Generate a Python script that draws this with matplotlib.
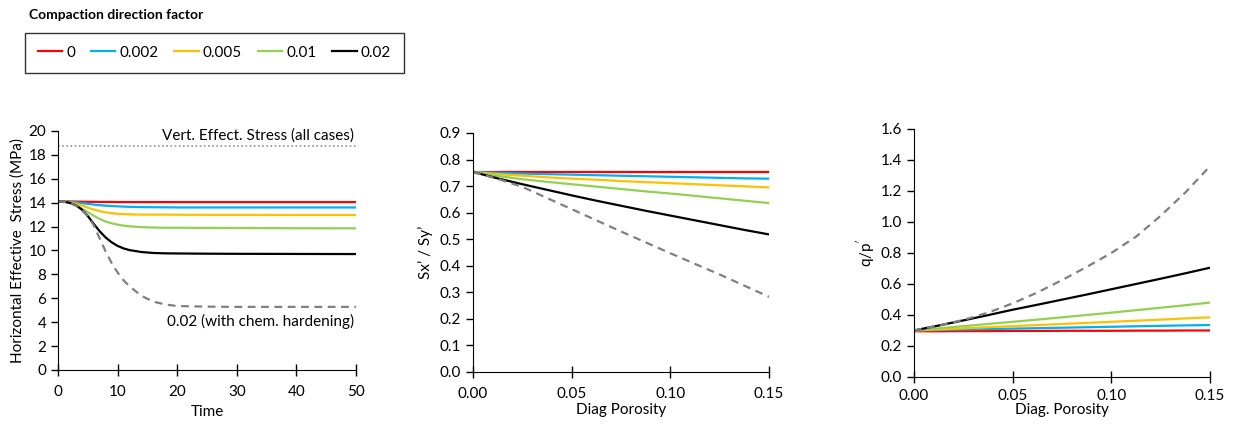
import matplotlib.pyplot as plt
from matplotlib.lines import Line2D

plt.rcParams['font.family'] = ['Lato', 'DejaVu Sans']
plt.rcParams['font.size'] = 11

factors = ['0', '0.002', '0.005', '0.01', '0.02']
colors = ['#FF0000', '#00B0F0', '#FFC000', '#92D050', '#000000']

# panel 1: horizontal effective stress vs time
time = [0, 1, 2, 3, 4, 5, 6, 7, 8, 9, 10, 11, 12, 14, 16, 18, 20, 25, 30, 40, 50]
stress = {
    '0':     [14.1, 14.1, 14.1, 14.09, 14.08, 14.07, 14.07, 14.06, 14.06, 14.06, 14.05, 14.05, 14.05,
              14.05, 14.05, 14.05, 14.05, 14.05, 14.05, 14.05, 14.05],
    '0.002': [14.1, 14.1, 14.07, 14.02, 13.96, 13.9, 13.84, 13.79, 13.75, 13.72, 13.69, 13.67, 13.65,
              13.63, 13.62, 13.61, 13.6, 13.6, 13.6, 13.6, 13.6],
    '0.005': [14.1, 14.09, 14.03, 13.92, 13.76, 13.58, 13.42, 13.29, 13.19, 13.12, 13.07, 13.04, 13.02,
              13.0, 13.0, 13.0, 12.99, 12.98, 12.98, 12.97, 12.97],
    '0.01':  [14.1, 14.08, 13.98, 13.78, 13.5, 13.2, 12.9, 12.63, 12.42, 12.27, 12.16, 12.08, 12.02,
              11.95, 11.92, 11.9, 11.9, 11.89, 11.88, 11.86, 11.85],
    '0.02':  [14.1, 14.08, 13.98, 13.78, 13.42, 12.88, 12.22, 11.6, 11.08, 10.68, 10.38, 10.17, 10.03,
              9.87, 9.79, 9.76, 9.75, 9.73, 9.72, 9.71, 9.7],
}
stress_chem = [14.1, 14.08, 13.97, 13.75, 13.4, 12.85, 12.1, 11.0, 9.9, 8.95, 8.15, 7.5, 7.0,
               6.2, 5.72, 5.48, 5.35, 5.3, 5.28, 5.28, 5.28]
vert_stress = [18.7] * len(time)

# panels 2 and 3: vs diagenetic porosity
poro = [0.0, 0.0125, 0.025, 0.0375, 0.05, 0.0625, 0.075, 0.0875, 0.10, 0.1125, 0.125, 0.1375, 0.15]
ratio = {
    '0':     [0.753] * 13,
    '0.002': [0.753, 0.750, 0.747, 0.745, 0.743, 0.741, 0.739, 0.737, 0.735, 0.733, 0.731, 0.729, 0.728],
    '0.005': [0.753, 0.745, 0.739, 0.733, 0.728, 0.724, 0.719, 0.715, 0.711, 0.707, 0.703, 0.699, 0.695],
    '0.01':  [0.753, 0.738, 0.726, 0.716, 0.707, 0.698, 0.689, 0.680, 0.672, 0.663, 0.654, 0.645, 0.636],
    '0.02':  [0.753, 0.729, 0.707, 0.686, 0.665, 0.645, 0.626, 0.607, 0.589, 0.571, 0.553, 0.535, 0.518],
}
ratio_chem = [0.753, 0.727, 0.697, 0.655, 0.613, 0.571, 0.529, 0.488, 0.447, 0.407, 0.367, 0.325, 0.283]

qp = {
    '0':     [0.295, 0.295, 0.296, 0.296, 0.297, 0.297, 0.298, 0.298, 0.298, 0.299, 0.299, 0.30, 0.30],
    '0.002': [0.300, 0.303, 0.306, 0.309, 0.312, 0.315, 0.318, 0.321, 0.324, 0.327, 0.330, 0.333, 0.335],
    '0.005': [0.300, 0.307, 0.314, 0.321, 0.328, 0.335, 0.342, 0.349, 0.356, 0.363, 0.370, 0.378, 0.385],
    '0.01':  [0.300, 0.314, 0.328, 0.342, 0.356, 0.370, 0.385, 0.400, 0.415, 0.431, 0.447, 0.463, 0.480],
    '0.02':  [0.300, 0.332, 0.365, 0.399, 0.434, 0.466, 0.499, 0.532, 0.566, 0.600, 0.634, 0.669, 0.705],
}
qp_chem = [0.300, 0.332, 0.368, 0.415, 0.475, 0.545, 0.625, 0.710, 0.800, 0.905, 1.04, 1.19, 1.36]

fig = plt.figure(figsize=(12.4, 4.38), dpi=100)
ax1 = fig.add_axes([0.0468, 0.1553, 0.2403, 0.5457])
ax2 = fig.add_axes([0.3815, 0.1507, 0.2387, 0.5457])
ax3 = fig.add_axes([0.7371, 0.1393, 0.2387, 0.5662])

lw = 1.6
dash = (0, (3.5, 2.5))
for f, c in zip(factors, colors):
    ax1.plot(time, stress[f], color=c, lw=lw)
    ax2.plot(poro, ratio[f], color=c, lw=lw)
    ax3.plot(poro, qp[f], color=c, lw=lw)
ax1.plot(time, stress_chem, color='#808080', lw=lw, ls=dash)
ax2.plot(poro, ratio_chem, color='#808080', lw=lw, ls=dash)
ax3.plot(poro, qp_chem, color='#808080', lw=lw, ls=dash)
ax1.plot(time, vert_stress, color='#909090', lw=1.2, ls=(0, (1, 1.5)))

ax1.text(49.7, 19.6, 'Vert. Effect. Stress (all cases)', ha='right', va='center')
ax1.text(49.7, 4.1, '0.02 (with chem. hardening)', ha='right', va='center')

ax1.set_xlim(0, 50)
ax1.set_ylim(0, 20)
ax1.set_xticks(range(0, 51, 10))
ax1.set_yticks(range(0, 21, 2))
ax1.set_xlabel('Time', labelpad=4)
ax1.set_ylabel('Horizontal Effective  Stress (MPa)', labelpad=3)

ax2.set_xlim(0, 0.15)
ax2.set_ylim(0, 0.9)
ax2.set_xticks([0, 0.05, 0.10, 0.15])
ax2.set_xticklabels(['0.00', '0.05', '0.10', '0.15'])
ax2.set_yticks([i / 10 for i in range(10)])
ax2.set_yticklabels(['%.1f' % (i / 10) for i in range(10)])
ax2.set_xlabel('Diag Porosity', labelpad=1)
ax2.set_ylabel('Sx\u2019 / Sy\u2019', labelpad=5)

ax3.set_xlim(0, 0.15)
ax3.set_ylim(0, 1.6)
ax3.set_xticks([0, 0.05, 0.10, 0.15])
ax3.set_xticklabels(['0.00', '0.05', '0.10', '0.15'])
ax3.set_yticks([i / 5 for i in range(9)])
ax3.set_yticklabels(['%.1f' % (i / 5) for i in range(9)])
ax3.set_xlabel('Diag. Porosity', labelpad=0)
ax3.set_ylabel("q/p$^{'}$", labelpad=3)

for ax in (ax1, ax2, ax3):
    ax.spines['top'].set_visible(False)
    ax.spines['right'].set_visible(False)
    ax.tick_params(axis='x', direction='inout', length=8, width=1, pad=7)
    ax.tick_params(axis='y', direction='out', length=5, width=1)
ax3.tick_params(axis='x', pad=5)

handles = [Line2D([], [], color=c, lw=lw) for c in colors]
leg = fig.legend(handles, factors, loc='upper left', bbox_to_anchor=(0.02, 0.925),
                 ncol=5, frameon=True, fancybox=False, edgecolor='black',
                 handlelength=1.6, handletextpad=0.25, columnspacing=1.05,
                 borderpad=0.85, borderaxespad=0)
leg.get_frame().set_linewidth(1)
fig.text(0.023, 0.965, 'Compaction direction factor', fontweight='bold', fontsize=10, va='center')

fig.savefig('out.png', dpi=100)
